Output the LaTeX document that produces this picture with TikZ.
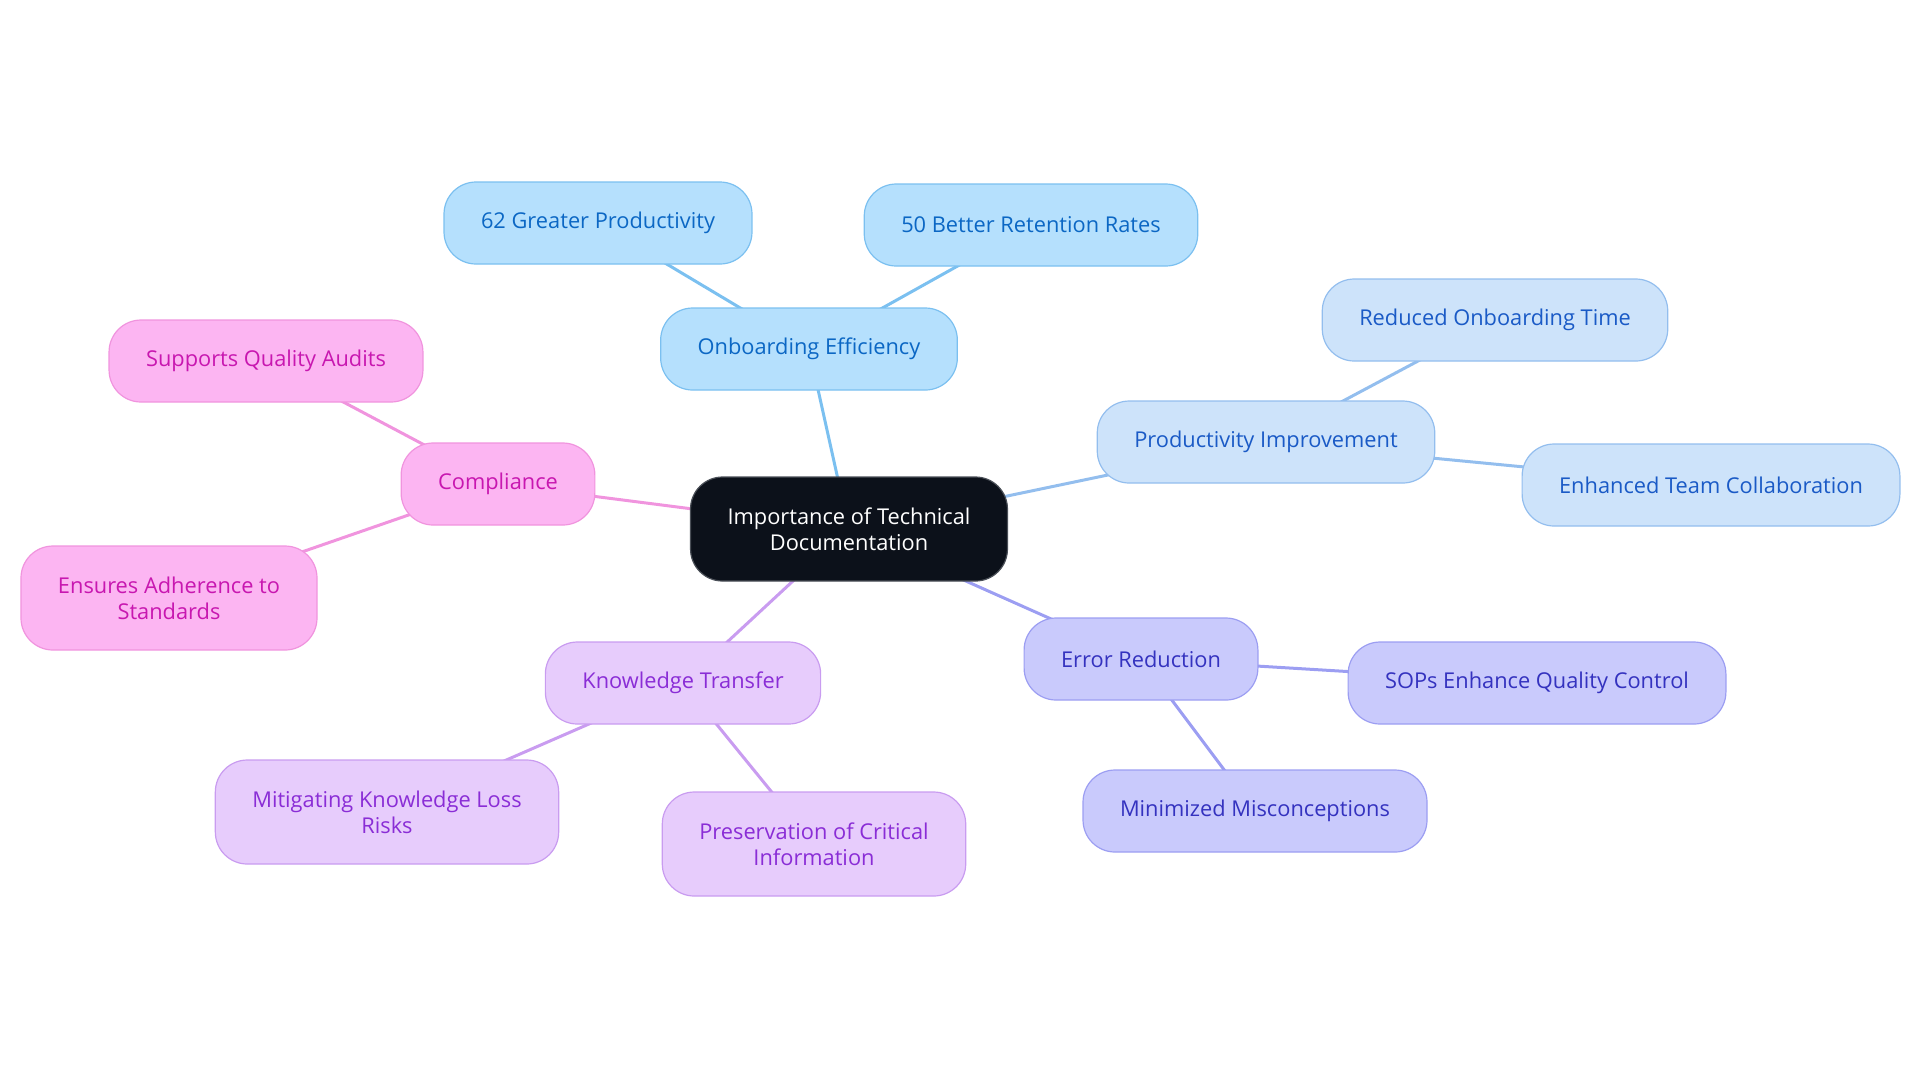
\documentclass[tikz,border=0pt]{standalone}
\usepackage{fontspec}
\setmainfont{Open Sans}
\usetikzlibrary{backgrounds}
\definecolor{rootFill}{HTML}{0C111A}
\definecolor{rootLine}{HTML}{4A4F57}
\definecolor{onbFill}{HTML}{B5E0FD}
\definecolor{onbLine}{HTML}{7BC0F0}
\definecolor{onbText}{HTML}{0B67C4}
\definecolor{proFill}{HTML}{CDE3FA}
\definecolor{proLine}{HTML}{93BEEE}
\definecolor{proText}{HTML}{1A5AC6}
\definecolor{errFill}{HTML}{C9CAFC}
\definecolor{errLine}{HTML}{9C9EF2}
\definecolor{errText}{HTML}{3432BF}
\definecolor{kntFill}{HTML}{E7CCFC}
\definecolor{kntLine}{HTML}{C99CF0}
\definecolor{kntText}{HTML}{8A2DD6}
\definecolor{cmpFill}{HTML}{FCB5F2}
\definecolor{cmpLine}{HTML}{F094DE}
\definecolor{cmpText}{HTML}{C817B0}
\tikzstyle{topic}=[draw, rounded corners=16pt, line width=0.6pt, inner xsep=18.5pt, inner ysep=0pt, minimum height=41pt, align=center, font=\fontsize{10.9}{13}\selectfont]
\tikzstyle{twoline}=[minimum height=52pt]
\tikzstyle{root}=[topic, fill=rootFill, draw=rootLine, text=white, minimum height=52pt]
\tikzstyle{onb}=[topic, fill=onbFill, draw=onbLine, text=onbText]
\tikzstyle{pro}=[topic, fill=proFill, draw=proLine, text=proText]
\tikzstyle{err}=[topic, fill=errFill, draw=errLine, text=errText]
\tikzstyle{knt}=[topic, fill=kntFill, draw=kntLine, text=kntText]
\tikzstyle{cmp}=[topic, fill=cmpFill, draw=cmpLine, text=cmpText]
\tikzstyle{link}=[line width=1.5pt]

\begin{document}
\begin{tikzpicture}[x=0.5pt,y=-0.5pt]
      \useasboundingbox (0,0) rectangle (1920,1083);
      \node [root] (root) at (849,529) {Importance of Technical\\Documentation};
      % onboarding branch
      \node [onb] (onb) at (809,349) {Onboarding Efficiency};
      \node [onb] (prod62) at (598,223) {62 Greater Productivity};
      \node [onb] (ret50) at (1031,225) {50 Better Retention Rates};
      % productivity branch
      \node [pro] (pro) at (1266,442) {Productivity Improvement};
      \node [pro] (redtime) at (1495,320) {Reduced Onboarding Time};
      \node [pro] (teamcol) at (1711,485) {Enhanced Team Collaboration};
      % error branch
      \node [err] (err) at (1141,659) {Error Reduction};
      \node [err] (sops) at (1537,683) {SOPs Enhance Quality Control};
      \node [err] (miscon) at (1255,811) {Minimized Misconceptions};
      % knowledge branch
      \node [knt] (knt) at (683,683) {Knowledge Transfer};
      \node [knt, twoline] (kloss) at (387,812) {Mitigating Knowledge Loss\\Risks};
      \node [knt, twoline] (preserve) at (814,844) {Preservation of Critical\\Information};
      % compliance branch
      \node [cmp] (cmp) at (498,484) {Compliance};
      \node [cmp] (audits) at (266,361) {Supports Quality Audits};
      \node [cmp, twoline] (adhere) at (169,598) {Ensures Adherence to\\Standards};
      \begin{scope}[on background layer]
      \path[link, draw=onbLine] (root.center) edge (onb.center)
            (onb.center) edge (prod62.center) (onb.center) edge (ret50.center);
      \path[link, draw=proLine] (root.center) edge (pro.center)
            (pro.center) edge (redtime.center) (pro.center) edge (teamcol.center);
      \path[link, draw=errLine] (root.center) edge (err.center)
            (err.center) edge (sops.center) (err.center) edge (miscon.center);
      \path[link, draw=kntLine] (root.center) edge (knt.center)
            (knt.center) edge (kloss.center) (knt.center) edge (preserve.center);
      \path[link, draw=cmpLine] (root.center) edge (cmp.center)
            (cmp.center) edge (audits.center) (cmp.center) edge (adhere.center);
      \end{scope}
\end{tikzpicture}
\end{document}
